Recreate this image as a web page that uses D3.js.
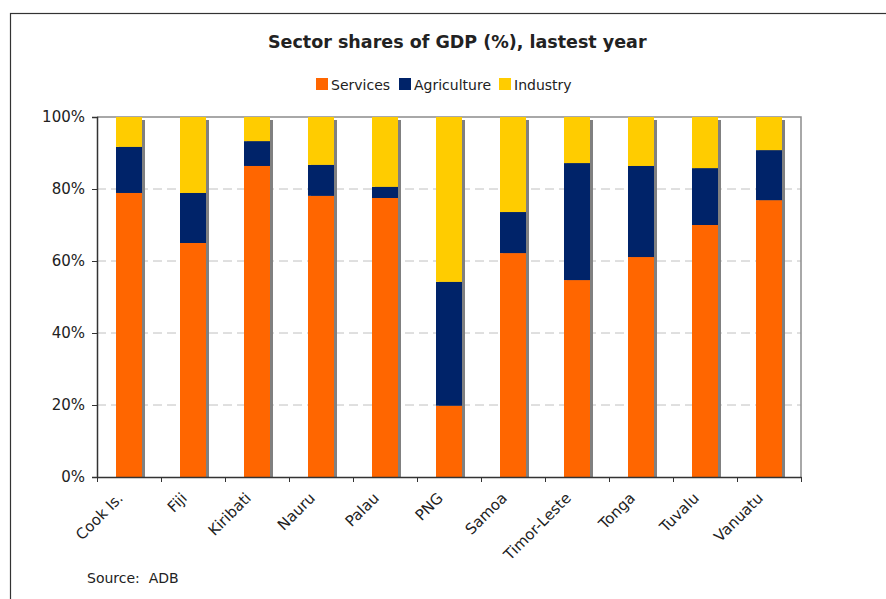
<!DOCTYPE html>
<html>
<head>
<meta charset="utf-8">
<script src="https://cdn.jsdelivr.net/npm/d3@7"></script>
<style>
  body { margin: 0; background: #fff; }
  text { font-family: "DejaVu Sans", Verdana, sans-serif; fill: #222; }
</style>
</head>
<body>
<div id="chart"></div>
<script>
// data (percent of GDP)
const countries = ["Cook Is.", "Fiji", "Kiribati", "Nauru", "Palau", "PNG", "Samoa", "Timor-Leste", "Tonga", "Tuvalu", "Vanuatu"];
const services = [78.9, 65.0, 86.4, 78.1, 77.5, 19.8, 62.2, 54.7, 61.1, 70.0, 76.9];
const agriculture = [12.8, 13.9, 6.9, 8.6, 3.1, 34.4, 11.4, 32.5, 25.3, 15.8, 13.9];
const industry = [8.3, 21.1, 6.7, 13.3, 19.4, 45.8, 26.4, 12.8, 13.6, 14.2, 9.2];
const seriesNames = ["Services", "Agriculture", "Industry"];
const seriesColors = ["#ff6600", "#002369", "#ffcc00"];
const yTicks = [0, 20, 40, 60, 80, 100];

const W = 886, H = 599;
const plot = { left: 97, right: 801, top: 117, bottom: 477 };

const svg = d3.select("#chart").append("svg")
    .attr("width", W)
    .attr("height", H);

// outer frame (runs off the right and bottom edge)
svg.append("rect")
    .attr("x", 10.5).attr("y", 13.5)
    .attr("width", 1000).attr("height", 1000)
    .attr("fill", "none")
    .attr("stroke", "#333")
    .attr("stroke-width", 1.2);

// title
svg.append("text")
    .attr("x", 268).attr("y", 48)
    .style("font-size", "17.5px")
    .style("font-weight", "bold")
    .text("Sector shares of GDP (%), lastest year");

// scales
const x = d3.scaleBand().domain(countries).range([plot.left, plot.right]);
const xEdge = d3.scaleLinear().domain([0, countries.length]).range([plot.left, plot.right]);
const y = d3.scaleLinear().domain([0, 100]).range([plot.bottom, plot.top]);

// legend
const legendX = [316, 399, 499];
const legend = svg.append("g");
seriesNames.forEach((name, i) => {
    const g = legend.append("g").attr("transform", `translate(${legendX[i]},78)`);
    g.append("rect").attr("width", 12).attr("height", 12).attr("fill", seriesColors[i]);
    g.append("text").attr("x", 15).attr("y", 12)
        .style("font-size", "14px")
        .text(name);
});

// gridlines
svg.append("g")
    .selectAll("line")
    .data(yTicks.filter(d => d > 0 && d < 100))
    .join("line")
    .attr("x1", plot.left).attr("x2", plot.right)
    .attr("y1", d => y(d)).attr("y2", d => y(d))
    .attr("stroke", "#c0c0c0")
    .attr("stroke-dasharray", "9,5");

// plot border top/right
svg.append("path")
    .attr("d", `M${plot.left},${plot.top}H${plot.right}V${plot.bottom}`)
    .attr("fill", "none")
    .attr("stroke", "#8c8c8c")
    .attr("stroke-width", 1.5);

// stacked bars
const rows = countries.map((c, i) => ({
    country: c,
    Services: services[i],
    Agriculture: agriculture[i],
    Industry: industry[i]
}));
const stacked = d3.stack().keys(seriesNames)(rows);

const barOffset = 19, barWidth = 26;

// shadows behind each column
svg.append("g")
    .selectAll("rect")
    .data(rows)
    .join("rect")
    .attr("x", d => x(d.country) + barOffset + 3)
    .attr("y", d => y(d.Services + d.Agriculture + d.Industry) + 3)
    .attr("width", barWidth)
    .attr("height", d => plot.bottom - y(d.Services + d.Agriculture + d.Industry) - 3)
    .attr("fill", "#808080");

svg.append("g")
    .selectAll("g")
    .data(stacked)
    .join("g")
    .attr("fill", (d, i) => seriesColors[i])
    .selectAll("rect")
    .data(d => d)
    .join("rect")
    .attr("x", d => x(d.data.country) + barOffset)
    .attr("y", d => y(d[1]))
    .attr("width", barWidth)
    .attr("height", d => y(d[0]) - y(d[1]));

// y axis
const yAxis = svg.append("g")
    .attr("transform", `translate(${plot.left},0)`)
    .call(d3.axisLeft(y).tickValues(yTicks).tickFormat(d => d + "%").tickSize(5).tickPadding(7));
yAxis.select(".domain").attr("stroke", "#333").attr("stroke-width", 1.5);
yAxis.selectAll(".tick line").attr("stroke", "#333");
yAxis.selectAll("text").style("font-size", "15px").attr("fill", "#222");

// x axis: ticks at category edges
const xAxis = svg.append("g")
    .attr("transform", `translate(0,${plot.bottom})`)
    .call(d3.axisBottom(xEdge).tickValues(d3.range(countries.length + 1)).tickFormat("").tickSize(5).tickSizeOuter(0));
xAxis.select(".domain").attr("stroke", "#333").attr("stroke-width", 1.5);
xAxis.selectAll(".tick line").attr("stroke", "#333");

// rotated category labels
svg.append("g")
    .selectAll("text")
    .data(countries)
    .join("text")
    .attr("transform", d => `translate(${x(d) + x.bandwidth() / 2 - 5},${plot.bottom + 22}) rotate(-45)`)
    .attr("text-anchor", "end")
    .style("font-size", "15px")
    .text(d => d);

// source note
svg.append("text")
    .attr("x", 87).attr("y", 583)
    .style("font-size", "14px")
    .style("white-space", "pre")
    .text("Source:  ADB");
</script>
</body>
</html>
